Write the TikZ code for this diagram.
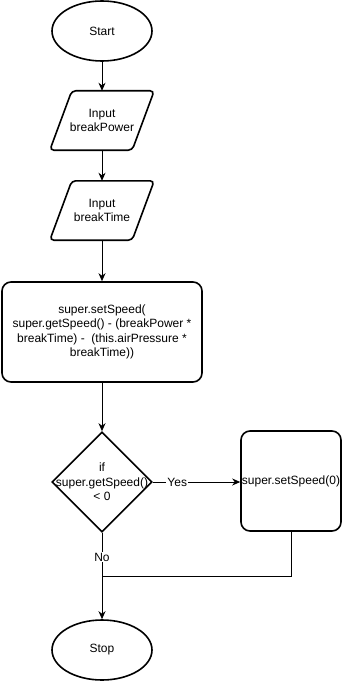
\documentclass[tikz,border=0pt]{standalone}
\usepackage{fontspec}
\setmainfont{Liberation Sans}
\usetikzlibrary{shapes.geometric,arrows.meta}
\newcommand{\slanted}[1]{%
  \draw[box, rounded corners=4pt] ([xshift=22pt]#1.north west) -- (#1.north east)
    -- ([xshift=-22pt]#1.south east) -- (#1.south west) -- cycle;}
\begin{document}
\begin{tikzpicture}[x=1pt,y=-1pt,
  every node/.style={font=\fontsize{12}{14.5}\selectfont, align=center, inner sep=0pt},
  box/.style={draw, line width=1.6pt},
  terminal/.style={box, ellipse, minimum width=100pt, minimum height=60pt},
  io/.style={minimum width=104pt, minimum height=59pt},
  process/.style={box, rounded corners=9pt},
  decision/.style={box, diamond, minimum width=100pt, minimum height=100pt},
  flow/.style={line width=0.9pt, -{Stealth[length=8pt,width=7pt,inset=2.5pt]}},
  link/.style={line width=0.9pt},
  lbl/.style={fill=white, inner sep=1pt}
]
\useasboundingbox (0,0) rectangle (342,682);

% steps of the braking routine
\node[terminal] (start) at (102,31) {Start};
\node[io] (power) at (102,120.5) {Input\\breakPower};
\slanted{power}
\node[io] (time) at (102,210.5) {Input\\breakTime};
\slanted{time}
\node[process, minimum width=200pt, minimum height=100pt] (update) at (102,332)
  {super.setSpeed(\\super.getSpeed() - (breakPower *\\breakTime) -~~(this.airPressure *\\breakTime))};
\node[decision, label={[align=center]center:{if\\super.getSpeed()\\< 0}}] (check) at (102,482) {};
\node[process, minimum width=100pt, minimum height=100pt,
  label={center:super.setSpeed(0)}] (clamp) at (291,481) {};
\node[terminal] (stop) at (102,650) {Stop};
\coordinate (join) at (102,576);

% connectors
\draw[flow] (start) -- (power);
\draw[flow] (power) -- (time);
\draw[flow] (time) -- (update);
\draw[flow] (update) -- (check);
\draw[flow] (check.east) -- node[lbl, pos=0.28] {Yes} (check.east -| clamp.west);
\draw[flow] (check) -- node[lbl, pos=0.28] {No} (stop);
\draw[link] (clamp.south) |- (join);
\end{tikzpicture}
\end{document}
